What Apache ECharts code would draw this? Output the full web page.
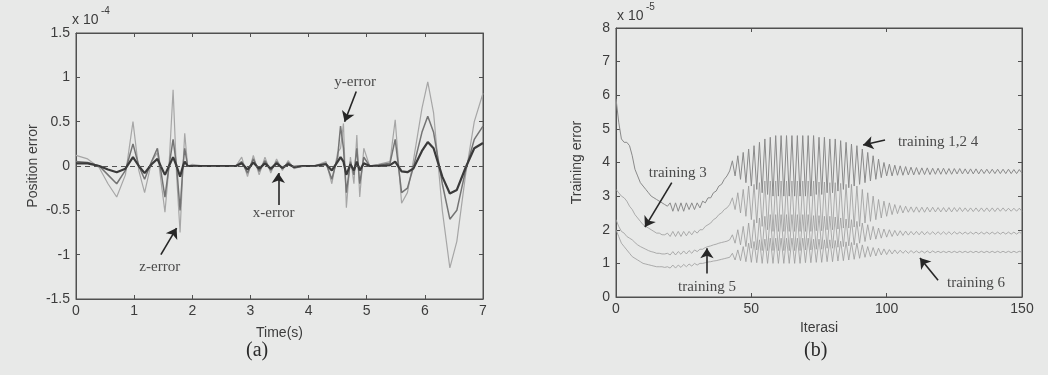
<!DOCTYPE html>
<html><head><meta charset="utf-8">
<script src="https://cdn.jsdelivr.net/npm/echarts@6/dist/echarts.min.js"></script>
<style>html,body{margin:0;padding:0;background:#e8e9e8}#c{width:1048px;height:375px}</style>
</head><body><div id="c"></div>
<script>
// ---------- (a) Position error (x 10^-4) vs Time(s) ----------
const timeS = [0, 0.2, 0.4, 0.55, 0.7, 0.85, 0.98, 1.08, 1.18, 1.3,
  1.4, 1.53, 1.6, 1.67, 1.73, 1.79, 1.84, 1.87, 1.92, 2.0,
  2.2, 2.5, 2.75, 2.85, 2.95, 3.05, 3.15, 3.25, 3.35, 3.45,
  3.55, 3.65, 3.75, 3.9, 4.1, 4.3, 4.4, 4.5, 4.55, 4.6,
  4.65, 4.72, 4.78, 4.83, 4.88, 4.95, 5.05, 5.2, 5.4, 5.49,
  5.6, 5.7, 5.8, 5.95, 6.05, 6.15, 6.3, 6.43, 6.55, 6.7, 6.85, 7.0];
const xError = [0.03, 0.03, 0.0, -0.04, -0.07, -0.03, 0.1, 0.0, -0.08, 0.02,
  0.08, -0.1, 0.0, 0.1, 0.0, -0.12, 0.0, 0.05, 0.0, 0.0,
  0.0, 0.0, 0.0, 0.03, -0.04, 0.04, -0.03, 0.03, -0.03, 0.03,
  -0.02, 0.02, -0.01, 0.0, 0.0, 0.02, -0.05, 0.05, 0.1, 0.05,
  -0.1, 0.02, -0.05, 0.05, -0.05, 0.03, 0.0, 0.0, 0.01, 0.05,
  -0.06, -0.07, -0.03, 0.17, 0.27, 0.2, -0.12, -0.31, -0.27, -0.02, 0.2, 0.26];
const yError = [0.05, 0.04, 0.0, -0.1, -0.2, -0.05, 0.25, 0.0, -0.15, 0.05,
  0.2, -0.35, 0.0, 0.3, 0.0, -0.5, 0.0, 0.2, 0.0, 0.0,
  0.0, 0.0, 0.0, 0.05, -0.08, 0.08, -0.06, 0.06, -0.05, 0.05,
  -0.03, 0.04, -0.02, 0.0, 0.0, 0.03, -0.15, 0.1, 0.45, 0.2,
  -0.3, 0.05, -0.1, 0.2, -0.2, 0.1, 0.0, 0.01, 0.03, 0.3,
  -0.3, -0.25, -0.02, 0.38, 0.56, 0.38, -0.2, -0.6, -0.5, -0.05, 0.3, 0.45];
const zError = [0.12, 0.08, -0.02, -0.2, -0.35, -0.1, 0.5, -0.05, -0.3, 0.05,
  0.15, -0.52, 0.0, 0.86, -0.1, -0.75, 0.0, 0.37, 0.0, 0.02,
  0.0, 0.0, 0.0, 0.1, -0.12, 0.12, -0.1, 0.1, -0.08, 0.08,
  -0.05, 0.06, -0.03, 0.0, 0.0, 0.05, -0.2, 0.15, 0.2, 0.48,
  -0.47, 0.1, -0.2, 0.35, -0.35, 0.2, 0.0, 0.02, 0.05, 0.52,
  -0.42, -0.3, 0.05, 0.65, 0.95, 0.6, -0.5, -1.15, -0.85, -0.1, 0.5, 0.82];
const notesA = [
  { text: 'y-error', label: [4.8, 0.95], from: [4.82, 0.84], to: [4.62, 0.5] },
  { text: 'x-error', label: [3.4, -0.53], from: [3.48, -0.44], to: [3.48, -0.08] },
  { text: 'z-error', label: [1.44, -1.14], from: [1.46, -1.0], to: [1.73, -0.7] }
];

// ---------- (b) Training error (x 10^-5) vs Iterasi, iterations 0..150 ----------
const training124 = [5.9, 5.2, 4.7, 4.6, 4.6, 4.5, 4.2, 3.8, 3.6, 3.4,
  3.3, 3.2, 3.1, 3.0, 2.95, 2.9, 2.85, 2.8, 2.75, 2.7,
  2.8, 2.55, 2.8, 2.55, 2.8, 2.55, 2.8, 2.6, 2.8, 2.6,
  2.8, 2.65, 2.85, 2.8, 2.95, 2.95, 3.1, 3.15, 3.3, 3.35,
  3.5, 3.6, 3.75, 4.05, 3.6, 4.2, 3.5, 4.3, 3.4, 4.4,
  3.3, 4.5, 3.2, 4.6, 3.1, 4.7, 3.05, 4.75, 3.0, 4.8,
  3.0, 4.8, 3.0, 4.8, 3.0, 4.8, 3.0, 4.8, 3.0, 4.8,
  3.0, 4.8, 3.0, 4.8, 3.05, 4.75, 3.05, 4.75, 3.1, 4.7,
  3.1, 4.7, 3.15, 4.65, 3.2, 4.6, 3.25, 4.55, 3.3, 4.5,
  3.35, 4.4, 3.4, 4.3, 3.45, 4.2, 3.5, 4.1, 3.55, 4.0,
  3.6, 3.95, 3.6, 3.92, 3.62, 3.9, 3.62, 3.88, 3.63, 3.86,
  3.63, 3.85, 3.64, 3.84, 3.64, 3.84, 3.64, 3.83, 3.65, 3.83,
  3.65, 3.83, 3.65, 3.82, 3.65, 3.82, 3.66, 3.82, 3.66, 3.81,
  3.66, 3.81, 3.66, 3.81, 3.66, 3.8, 3.67, 3.8, 3.67, 3.8,
  3.67, 3.8, 3.67, 3.8, 3.67, 3.8, 3.67, 3.79, 3.67, 3.79, 3.68];
const training3 = [3.2, 3.1, 3.0, 2.95, 2.85, 2.7, 2.6, 2.45, 2.35, 2.25,
  2.15, 2.1, 2.05, 2.0, 1.95, 1.9, 1.9, 1.85, 1.85, 1.9,
  1.8, 1.95, 1.8, 1.95, 1.8, 1.95, 1.82, 1.95, 1.85, 1.97,
  1.9, 2.0, 2.0, 2.1, 2.15, 2.2, 2.3, 2.35, 2.45, 2.5,
  2.6, 2.65, 2.75, 2.95, 2.6, 3.1, 2.5, 3.2, 2.4, 3.3,
  2.3, 3.35, 2.2, 3.4, 2.1, 3.45, 2.0, 3.45, 1.95, 3.45,
  1.95, 3.45, 1.95, 3.45, 1.95, 3.45, 1.95, 3.45, 1.95, 3.45,
  1.95, 3.45, 1.95, 3.45, 1.97, 3.42, 1.97, 3.42, 2.0, 3.4,
  2.0, 3.4, 2.02, 3.38, 2.05, 3.35, 2.05, 3.35, 2.08, 3.3,
  2.1, 3.2, 2.2, 3.1, 2.25, 3.0, 2.3, 2.9, 2.35, 2.85,
  2.4, 2.8, 2.45, 2.75, 2.48, 2.72, 2.5, 2.7, 2.52, 2.68,
  2.52, 2.68, 2.52, 2.67, 2.52, 2.67, 2.53, 2.67, 2.53, 2.66,
  2.53, 2.66, 2.53, 2.66, 2.53, 2.66, 2.54, 2.66, 2.54, 2.65,
  2.54, 2.65, 2.54, 2.65, 2.54, 2.65, 2.54, 2.65, 2.54, 2.65,
  2.54, 2.65, 2.55, 2.65, 2.55, 2.64, 2.55, 2.64, 2.55, 2.64, 2.55];
const training5 = [2.3, 2.1, 1.95, 1.9, 1.8, 1.75, 1.7, 1.62, 1.55, 1.5,
  1.46, 1.42, 1.38, 1.35, 1.33, 1.3, 1.3, 1.28, 1.28, 1.3,
  1.25, 1.35, 1.25, 1.35, 1.27, 1.37, 1.28, 1.38, 1.3, 1.4,
  1.35, 1.42, 1.42, 1.47, 1.5, 1.52, 1.55, 1.57, 1.6, 1.62,
  1.64, 1.66, 1.7, 1.85, 1.6, 2.0, 1.55, 2.1, 1.5, 2.2,
  1.45, 2.3, 1.4, 2.35, 1.38, 2.4, 1.38, 2.45, 1.38, 2.45,
  1.38, 2.45, 1.38, 2.45, 1.38, 2.45, 1.38, 2.45, 1.38, 2.45,
  1.4, 2.45, 1.4, 2.42, 1.42, 2.42, 1.42, 2.4, 1.45, 2.4,
  1.45, 2.38, 1.48, 2.35, 1.5, 2.32, 1.52, 2.3, 1.55, 2.25,
  1.6, 2.2, 1.65, 2.15, 1.7, 2.1, 1.72, 2.05, 1.75, 2.02,
  1.78, 2.0, 1.8, 1.98, 1.82, 1.97, 1.83, 1.96, 1.84, 1.95,
  1.85, 1.95, 1.85, 1.95, 1.85, 1.94, 1.86, 1.94, 1.86, 1.94,
  1.86, 1.94, 1.86, 1.94, 1.86, 1.94, 1.87, 1.93, 1.87, 1.93,
  1.87, 1.93, 1.87, 1.93, 1.87, 1.93, 1.87, 1.93, 1.87, 1.93,
  1.87, 1.93, 1.87, 1.93, 1.87, 1.93, 1.87, 1.93, 1.87, 1.93, 1.88];
const training6 = [2.0, 1.8, 1.6, 1.5, 1.4, 1.3, 1.2, 1.15, 1.1, 1.05,
  1.0, 0.98, 0.96, 0.94, 0.92, 0.9, 0.9, 0.9, 0.88, 0.9,
  0.86, 0.95, 0.86, 0.95, 0.88, 0.97, 0.9, 0.98, 0.92, 1.0,
  0.95, 1.0, 1.0, 1.02, 1.04, 1.05, 1.07, 1.08, 1.1, 1.12,
  1.14, 1.16, 1.18, 1.3, 1.1, 1.4, 1.08, 1.5, 1.05, 1.6,
  1.03, 1.65, 1.02, 1.7, 1.0, 1.72, 1.0, 1.75, 1.0, 1.75,
  1.0, 1.75, 1.0, 1.75, 1.0, 1.75, 1.0, 1.75, 1.0, 1.75,
  1.02, 1.75, 1.02, 1.72, 1.03, 1.72, 1.03, 1.7, 1.05, 1.7,
  1.05, 1.68, 1.07, 1.66, 1.08, 1.64, 1.1, 1.62, 1.12, 1.6,
  1.15, 1.55, 1.18, 1.5, 1.2, 1.47, 1.22, 1.45, 1.25, 1.43,
  1.26, 1.41, 1.28, 1.4, 1.29, 1.39, 1.3, 1.38, 1.3, 1.38,
  1.31, 1.37, 1.31, 1.37, 1.31, 1.37, 1.31, 1.37, 1.32, 1.36,
  1.32, 1.36, 1.32, 1.36, 1.32, 1.36, 1.32, 1.36, 1.32, 1.36,
  1.32, 1.36, 1.32, 1.36, 1.32, 1.36, 1.32, 1.36, 1.32, 1.36,
  1.32, 1.36, 1.32, 1.36, 1.32, 1.36, 1.32, 1.36, 1.32, 1.36, 1.33];
const notesB = [
  { text: 'training 3', label: [22.8, 3.69], from: [20.6, 3.4], to: [10.7, 2.08] },
  { text: 'training 5', label: [33.6, 0.3], from: [33.6, 0.7], to: [33.6, 1.45] },
  { text: 'training 1,2 4', label: [119, 4.6], from: [99.4, 4.67], to: [91.3, 4.52] },
  { text: 'training 6', label: [133, 0.42], from: [119, 0.5], to: [112.3, 1.16] }
];

// ---------- build ----------
const SANS = 'Liberation Sans, Arial, sans-serif';
const SERIF = 'Liberation Serif, Times New Roman, serif';
const AX = '#505050';
const tickLbl = { color: '#3c3c3c', fontFamily: SANS, fontSize: 14 };

function mainX(grid, min, max, interval, name, gap) {
  return { gridIndex: grid, type: 'value', min, max, interval, name, nameLocation: 'middle', nameGap: gap,
    nameTextStyle: { color: '#3c3c3c', fontFamily: SANS, fontSize: 14 },
    axisLine: { show: true, onZero: false, lineStyle: { color: AX, width: 1 } },
    axisTick: { show: true, inside: true, length: 4, lineStyle: { color: AX } },
    axisLabel: Object.assign({ margin: 5 }, tickLbl), splitLine: { show: false } };
}
function mirrorX(grid, min, max, interval) {
  return { gridIndex: grid, type: 'value', position: 'top', min, max, interval,
    axisLine: { show: true, onZero: false, lineStyle: { color: AX, width: 1 } },
    axisTick: { show: true, inside: true, length: 4, lineStyle: { color: AX } },
    axisLabel: { show: false }, splitLine: { show: false } };
}
function mainY(grid, min, max, interval, name, gap) {
  return { gridIndex: grid, type: 'value', min, max, interval, name, nameLocation: 'middle', nameGap: gap,
    nameTextStyle: { color: '#3c3c3c', fontFamily: SANS, fontSize: 14 },
    axisLine: { show: true, onZero: false, lineStyle: { color: AX, width: 1 } },
    axisTick: { show: true, inside: true, length: 4, lineStyle: { color: AX } },
    axisLabel: Object.assign({ margin: 6 }, tickLbl), splitLine: { show: false } };
}
function mirrorY(grid, min, max, interval) {
  return { gridIndex: grid, type: 'value', position: 'right', min, max, interval,
    axisLine: { show: true, onZero: false, lineStyle: { color: AX, width: 1 } },
    axisTick: { show: true, inside: true, length: 4, lineStyle: { color: AX } },
    axisLabel: { show: false }, splitLine: { show: false } };
}
function lineSeries(xi, yi, xs, ys, color, width, extra) {
  return Object.assign({ type: 'line', xAxisIndex: xi, yAxisIndex: yi, showSymbol: false, symbol: 'none',
    data: ys.map((v, i) => [xs[i], v]), lineStyle: { color, width }, silent: true, z: 3 }, extra || {});
}
function noteSeries(xi, yi, notes) {
  return { type: 'scatter', xAxisIndex: xi, yAxisIndex: yi, symbol: 'circle', symbolSize: 1,
    itemStyle: { color: 'rgba(0,0,0,0)' }, silent: true, z: 10,
    data: notes.map(n => ({ name: n.text, value: n.label })),
    label: { show: true, position: 'inside', formatter: p => p.name, color: '#222', fontFamily: SERIF, fontSize: 15 },
    markLine: { silent: true, symbol: ['none', 'arrow'], symbolSize: 10, label: { show: false },
      lineStyle: { color: '#262626', width: 1.6, type: 'solid', opacity: 1 },
      itemStyle: { color: '#262626', opacity: 1 },
      emphasis: { disabled: true },
      data: notes.map(n => [
        { coord: n.from, symbol: 'none' },
        { coord: n.to, symbol: 'arrow', symbolSize: 10, itemStyle: { color: '#262626', opacity: 1 } }
      ]) } };
}
const iters = training124.map((_, i) => i);

const option = {
  backgroundColor: '#e8e9e8',
  animation: false,
  grid: [
    { left: 76, top: 33, width: 407, height: 266, show: true, borderColor: AX, borderWidth: 1, backgroundColor: 'transparent' },
    { left: 616, top: 28, width: 406, height: 269, show: true, borderColor: AX, borderWidth: 1, backgroundColor: 'transparent' }
  ],
  xAxis: [
    mainX(0, 0, 7, 1, 'Time(s)', 27), mirrorX(0, 0, 7, 1),
    mainX(1, 0, 150, 50, 'Iterasi', 12), mirrorX(1, 0, 150, 50)
  ],
  yAxis: [
    mainY(0, -1.5, 1.5, 0.5, 'Position error', 36), mirrorY(0, -1.5, 1.5, 0.5),
    mainY(1, 0, 8, 1, 'Training error', 32), mirrorY(1, 0, 8, 1)
  ],
  series: [
    lineSeries(0, 0, timeS, zError, '#a6a6a6', 1.2),
    lineSeries(0, 0, timeS, yError, '#747474', 1.5),
    lineSeries(0, 0, timeS, xError, '#3a3a3a', 2.2, {
      markLine: { silent: true, symbol: 'none', label: { show: false },
        lineStyle: { color: '#555', width: 1, type: [5, 4] }, data: [{ yAxis: 0 }] } }),
    noteSeries(0, 0, notesA),
    lineSeries(2, 2, iters, training6, '#9a9a9a', 0.8),
    lineSeries(2, 2, iters, training5, '#9a9a9a', 0.8),
    lineSeries(2, 2, iters, training3, '#9a9a9a', 0.8),
    lineSeries(2, 2, iters, training124, '#8a8a8a', 1.0),
    noteSeries(2, 2, notesB)
  ],
  graphic: [
    { type: 'text', left: 72, top: 13, style: { text: 'x 10', fill: '#3c3c3c', font: '14px ' + SANS } },
    { type: 'text', left: 101, top: 6, style: { text: '-4', fill: '#3c3c3c', font: '10px ' + SANS } },
    { type: 'text', left: 617, top: 9, style: { text: 'x 10', fill: '#3c3c3c', font: '14px ' + SANS } },
    { type: 'text', left: 646, top: 2, style: { text: '-5', fill: '#3c3c3c', font: '10px ' + SANS } },
    { type: 'text', left: 246, top: 341, style: { text: '(a)', fill: '#2a2a2a', font: '20px ' + SERIF } },
    { type: 'text', left: 804, top: 341, style: { text: '(b)', fill: '#2a2a2a', font: '20px ' + SERIF } }
  ]
};
const chart = echarts.init(document.getElementById('c'), null, { renderer: 'canvas' });
chart.setOption(option);
</script>
</body></html>
